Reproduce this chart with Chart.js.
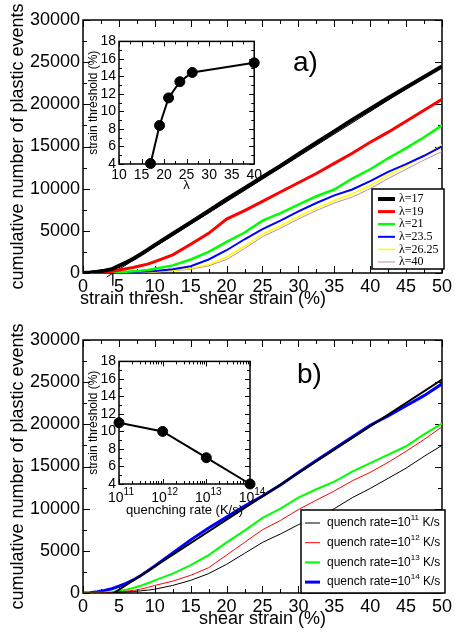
<!DOCTYPE html>
<html lang="en">
<head>
<meta charset="UTF-8" />
<title>Cumulative plastic events vs shear strain</title>
<script src="https://cdn.jsdelivr.net/npm/chart.js"></script>
<style>
  html, body { margin: 0; padding: 0; background: #fff; }
  #wrap { position: relative; width: 455px; height: 635px; overflow: hidden; }
  canvas { position: absolute; }
</style>
</head>
<body>
<div id="wrap">
  <canvas id="mainA" width="455" height="310" style="left:0;top:0"></canvas>
  <canvas id="insetA" width="190" height="165" style="left:75px;top:30px"></canvas>
  <canvas id="mainB" width="455" height="325" style="left:0;top:310px"></canvas>
  <canvas id="insetB" width="190" height="170" style="left:75px;top:350px"></canvas>
</div>

<script>
// ---- data ----
const strain = [0, 1, 2, 3, 4, 5, 6, 7, 8, 9, 10, 12.5, 15, 17.5, 20, 22.5, 25, 27.5, 30, 32.5, 35, 37.5, 40, 42.5, 45, 47.5, 50];

// panel a) : different lambda
const lambdaNames = ['λ=17', 'λ=19', 'λ=21', 'λ=23.5', 'λ=26.25', 'λ=40'];
const lam17   = [0, 50, 150, 280, 450, 850, 1250, 1700, 2200, 2750, 3300, 4650, 6000, 7350, 8750, 10050, 11400, 12700, 14100, 15450, 16800, 18150, 19450, 20750, 22000, 23250, 24500];
const lam19   = [0, 30, 60, 100, 180, 350, 500, 650, 850, 1050, 1350, 2150, 3400, 4700, 6400, 7400, 8500, 9600, 10700, 11800, 13000, 14200, 15500, 16700, 18000, 19300, 20600];
const lam21   = [0, 20, 40, 60, 80, 110, 150, 200, 260, 350, 500, 900, 1600, 2500, 3700, 4800, 6200, 7100, 8100, 9100, 9900, 11200, 12300, 13600, 14800, 16100, 17500];
const lam235  = [0, 10, 20, 30, 45, 60, 80, 110, 150, 190, 250, 450, 800, 1600, 2700, 4000, 5200, 6200, 7300, 8300, 9200, 9900, 10900, 12000, 12900, 13900, 15000];
const lam2625 = [0, 5, 10, 20, 30, 40, 55, 70, 90, 120, 150, 300, 550, 1000, 1900, 3200, 4600, 5600, 6700, 7700, 8600, 9400, 10400, 11600, 12700, 13900, 15200];
const lam40   = [0, 5, 10, 15, 25, 35, 45, 60, 75, 95, 120, 250, 450, 850, 1600, 2900, 4300, 5300, 6400, 7400, 8300, 9000, 10000, 11200, 12300, 13400, 14400];
const fitAx = [3.3, 50];
const fitAy = [-480, 24500];
const markAx = [4.15, 4.15];
const markAy = [0, -1500];

// inset a)
const lambdaVals = [17, 19, 21, 23.5, 26.25, 40];
const threshA = [4.05, 8.4, 11.55, 13.4, 14.45, 15.55];

// panel b) : different quench rates
const quenchNames = ['quench rate=10^{11} K/s', 'quench rate=10^{12} K/s', 'quench rate=10^{13} K/s', 'quench rate=10^{14} K/s'];
const rate11 = [0, 0, 5, 10, 20, 80, 120, 170, 250, 340, 450, 900, 1500, 2300, 3400, 4700, 6000, 7000, 8100, 9000, 10000, 11300, 12400, 13600, 14800, 16200, 17500];
const rate12 = [0, 5, 15, 30, 60, 150, 220, 300, 450, 650, 900, 1400, 2100, 3000, 4500, 6000, 7500, 8600, 9900, 11000, 12100, 13300, 14300, 15500, 16800, 18200, 19700];
const rate13 = [0, 10, 30, 60, 120, 250, 400, 600, 850, 1150, 1500, 2300, 3300, 4500, 6000, 7400, 8900, 10000, 11300, 12300, 13200, 14400, 15400, 16400, 17400, 18800, 20100];
const rate14 = [0, 40, 150, 300, 500, 800, 1150, 1550, 2050, 2600, 3200, 4750, 6300, 7700, 9000, 10300, 11500, 12800, 14300, 15700, 17100, 18500, 19900, 21000, 22200, 23400, 24800];
const fitBx = [4.3, 50];
const fitBy = [0, 25300];

// inset b)
const rates = [1e11, 1e12, 1e13, 1e14];
const rateExp = ['11', '12', '13', '14'];
const threshB = [11, 10, 7, 4];

// ---- helpers ----
const SANS = "'Liberation Sans', Arial, Helvetica, sans-serif";
const SERIF = "'Liberation Serif', 'Times New Roman', serif";
Chart.defaults.font.family = SANS;
Chart.defaults.color = '#000';

function xy(xs, ys) {
  return xs.map((v, i) => ({ x: v, y: ys[i] }));
}

function richParts(text) {
  const parts = [];
  const re = /\^\{([^}]*)\}/g;
  let last = 0, m;
  while ((m = re.exec(text))) {
    if (m.index > last) parts.push({ t: text.slice(last, m.index), sup: false });
    parts.push({ t: m[1], sup: true });
    last = re.lastIndex;
  }
  if (last < text.length) parts.push({ t: text.slice(last), sup: false });
  return parts;
}

// text with ^{..} superscripts
function drawRich(ctx, text, x, y, size, family, align) {
  const parts = richParts(text);
  const small = Math.round(size * 0.68);
  let w = 0;
  parts.forEach(p => {
    ctx.font = (p.sup ? small : size) + 'px ' + family;
    p.w = ctx.measureText(p.t).width;
    w += p.w;
  });
  let cx = align === 'center' ? x - w / 2 : align === 'right' ? x - w : x;
  ctx.textAlign = 'left';
  ctx.textBaseline = 'middle';
  parts.forEach(p => {
    ctx.font = (p.sup ? small : size) + 'px ' + family;
    ctx.fillText(p.t, cx, p.sup ? y - size * 0.42 : y);
    cx += p.w;
  });
}

function tickSet(scale, logMajor) {
  if (logMajor) {
    const minor = [];
    for (let i = 0; i < logMajor.length - 1; i++)
      for (let k = 2; k < 10; k++) minor.push(k * logMajor[i]);
    return { major: logMajor, minor };
  }
  const major = scale.ticks.map(t => t.value);
  const minor = [];
  for (let i = 0; i < major.length - 1; i++) minor.push((major[i] + major[i + 1]) / 2);
  return { major, minor };
}

// box + inward ticks on all four sides (xmgrace look)
function makeFrame(o) {
  return {
    id: 'frameTicks',
    beforeDatasetsDraw(chart) {
      const { ctx, chartArea: a } = chart;
      const sx = chart.scales.x, sy = chart.scales.y;
      const tx = tickSet(sx, o.logMajor), ty = tickSet(sy);
      ctx.save();
      ctx.strokeStyle = '#000';
      ctx.lineWidth = 1;
      ctx.beginPath();
      const vert = (vals, len) => vals.forEach(v => {
        const p = Math.round(sx.getPixelForValue(v)) + 0.5;
        ctx.moveTo(p, a.bottom); ctx.lineTo(p, a.bottom - len);
        ctx.moveTo(p, a.top); ctx.lineTo(p, a.top + len);
      });
      const horiz = (vals, len) => vals.forEach(v => {
        const p = Math.round(sy.getPixelForValue(v)) + 0.5;
        ctx.moveTo(a.left, p); ctx.lineTo(a.left + len, p);
        ctx.moveTo(a.right, p); ctx.lineTo(a.right - len, p);
      });
      vert(tx.major, o.major); vert(tx.minor, o.minor);
      horiz(ty.major, o.major); horiz(ty.minor, o.minor);
      ctx.stroke();
      ctx.lineWidth = o.frame;
      ctx.strokeRect(a.left, a.top, a.right - a.left, a.bottom - a.top);
      ctx.restore();
    }
  };
}

function makeLegend(o) {
  return {
    id: 'boxLegend',
    afterDatasetsDraw(chart) {
      const ctx = chart.ctx;
      ctx.save();
      ctx.fillStyle = '#fff';
      ctx.fillRect(o.left, o.top, o.width, o.height);
      ctx.strokeStyle = '#000';
      ctx.lineWidth = 1.5;
      ctx.strokeRect(o.left, o.top, o.width, o.height);
      chart.data.datasets.filter(d => d.label).forEach((d, i) => {
        const y = o.top + o.first + i * o.gap;
        ctx.strokeStyle = d.borderColor;
        ctx.lineWidth = d.borderWidth;
        ctx.beginPath();
        ctx.moveTo(o.left + o.lineFrom, y);
        ctx.lineTo(o.left + o.lineTo, y);
        ctx.stroke();
        ctx.fillStyle = '#000';
        drawRich(ctx, d.label, o.left + o.textX, y, o.size, o.family, 'left');
      });
      ctx.restore();
    }
  };
}

function makeTexts(items) {
  return {
    id: 'textMarks',
    afterDraw(chart) {
      const ctx = chart.ctx;
      ctx.save();
      ctx.fillStyle = '#000';
      items.forEach(it => drawRich(ctx, it.text, it.x, it.y, it.size, it.family || SANS, it.align || 'left'));
      ctx.restore();
    }
  };
}

function makeLogLabels(values, exps, dy, size) {
  return {
    id: 'logLabels',
    afterDraw(chart) {
      const ctx = chart.ctx, sx = chart.scales.x, a = chart.chartArea;
      ctx.save();
      ctx.fillStyle = '#000';
      values.forEach((v, i) => drawRich(ctx, '10^{' + exps[i] + '}', sx.getPixelForValue(v) + 2, a.bottom + dy, size, SANS, 'center'));
      ctx.restore();
    }
  };
}

function curve(label, ys, color, width) {
  return { label, data: xy(strain, ys), borderColor: color, borderWidth: width, pointRadius: 0, tension: 0 };
}

const noGrid = { display: false, drawTicks: false };

function mainOptions(top, xHeight, titlePad) {
  return {
    responsive: false,
    animation: false,
    events: [],
    layout: { padding: { top: top, right: 10, left: 0, bottom: 0 } },
    scales: {
      x: {
        type: 'linear', min: 0, max: 50,
        grid: noGrid, border: { display: false },
        ticks: { stepSize: 5, autoSkip: false, maxRotation: 0, padding: 3, font: { size: 18 } },
        title: { display: true, text: 'shear strain (%)', font: { size: 18 }, padding: { top: 0, bottom: titlePad } },
        afterFit: s => { s.height = xHeight; }
      },
      y: {
        type: 'linear', min: 0, max: 30000,
        grid: noGrid, border: { display: false },
        ticks: { stepSize: 5000, autoSkip: false, padding: 3, font: { size: 18 }, callback: v => String(v) },
        title: { display: true, text: 'cumulative number of plastic events', font: { size: 18 }, padding: { top: 7, bottom: 0 } },
        afterFit: s => { s.width = 83; }
      }
    },
    plugins: { legend: { display: false }, tooltip: { enabled: false } }
  };
}

function insetOptions(xScale, xTitle, xHeight, right) {
  return {
    responsive: false,
    animation: false,
    events: [],
    layout: { padding: { top: 8, right: right, left: 0, bottom: 0 } },
    scales: {
      x: Object.assign({
        grid: noGrid, border: { display: false },
        title: { display: true, text: xTitle, font: { size: 13 }, padding: { top: 0, bottom: 2 } },
        afterFit: s => { s.height = xHeight; }
      }, xScale),
      y: {
        type: 'linear', min: 4, max: 18,
        grid: noGrid, border: { display: false },
        ticks: { stepSize: 2, autoSkip: false, padding: 3, font: { size: 14 } },
        title: { display: true, text: 'strain threshold (%)', font: { size: 12 }, padding: { top: 11, bottom: 0 } },
        afterFit: s => { s.width = 44; }
      }
    },
    plugins: { legend: { display: false }, tooltip: { enabled: false } }
  };
}

// ---- panel a) ----
new Chart(document.getElementById('mainA'), {
  type: 'line',
  data: {
    datasets: [
      curve(lambdaNames[0], lam17, '#000000', 4),
      curve(lambdaNames[1], lam19, '#ff0000', 3),
      curve(lambdaNames[2], lam21, '#00ff00', 2.5),
      curve(lambdaNames[3], lam235, '#0000ff', 2),
      curve(lambdaNames[4], lam2625, '#ffff00', 1.5),
      curve(lambdaNames[5], lam40, '#bc8f8f', 1),
      { data: xy(fitAx, fitAy), borderColor: '#000', borderWidth: 1, pointRadius: 0, clip: { left: 0, top: 0, right: 0, bottom: 15 } },
      { data: xy(markAx, markAy), borderColor: '#000', borderWidth: 1.3, pointRadius: 0, clip: { left: 0, top: 0, right: 0, bottom: 15 } }
    ]
  },
  options: mainOptions(20, 37, 0),
  plugins: [
    makeFrame({ major: 7, minor: 4, frame: 1.5 }),
    makeLegend({ left: 372, top: 189, width: 72, height: 80, first: 10, gap: 12.6, lineFrom: 6, lineTo: 23, textX: 27, size: 12, family: SERIF }),
    makeTexts([
      { text: 'a)', x: 293, y: 63, size: 28 },
      { text: 'strain thresh.', x: 80, y: 299, size: 18 }
    ])
  ]
});

new Chart(document.getElementById('insetA'), {
  type: 'line',
  data: {
    datasets: [{
      data: xy(lambdaVals, threshA), borderColor: '#000', borderWidth: 2,
      pointRadius: 5, pointBackgroundColor: '#000', pointBorderColor: '#000', pointBorderWidth: 1, clip: false
    }]
  },
  options: insetOptions({ type: 'linear', min: 10, max: 40, ticks: { stepSize: 5, autoSkip: false, maxRotation: 0, padding: 3, font: { size: 14 } } }, 'λ', 31, 8),
  plugins: [makeFrame({ major: 5, minor: 3, frame: 1.5 })]
});

// ---- panel b) ----
new Chart(document.getElementById('mainB'), {
  type: 'line',
  data: {
    datasets: [
      { data: xy(fitBx, fitBy), borderColor: '#000', borderWidth: 2, pointRadius: 0 },
      curve(quenchNames[0], rate11, '#000000', 1),
      curve(quenchNames[1], rate12, '#ff0000', 1),
      curve(quenchNames[2], rate13, '#00ff00', 2),
      curve(quenchNames[3], rate14, '#0000ff', 3)
    ]
  },
  options: mainOptions(30, 42, 5),
  plugins: [
    makeFrame({ major: 7, minor: 4, frame: 1.5 }),
    makeLegend({ left: 301, top: 200, width: 144, height: 83, first: 13, gap: 19.7, lineFrom: 4, lineTo: 19, textX: 26, size: 12, family: SANS }),
    makeTexts([{ text: 'b)', x: 297, y: 65, size: 28 }])
  ]
});

new Chart(document.getElementById('insetB'), {
  type: 'line',
  data: {
    datasets: [{
      data: xy(rates, threshB), borderColor: '#000', borderWidth: 2,
      pointRadius: 5, pointBackgroundColor: '#000', pointBorderColor: '#000', pointBorderWidth: 1, clip: false
    }]
  },
  options: insetOptions({ type: 'logarithmic', min: 1e11, max: 1e14, ticks: { display: false } }, 'quenching rate (K/s)', 36, 15),
  plugins: [
    makeFrame({ major: 5, minor: 3, frame: 1.5, logMajor: rates }),
    makeLogLabels(rates, rateExp, 14, 14)
  ]
});
</script>
</body>
</html>
